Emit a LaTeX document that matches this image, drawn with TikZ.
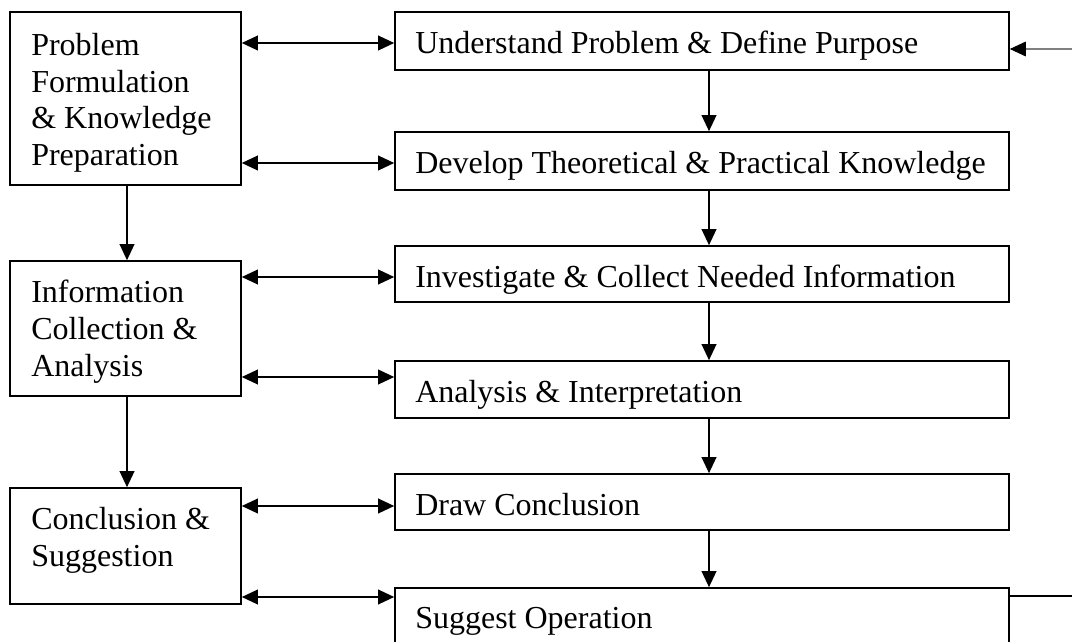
\documentclass[tikz,border=0pt]{standalone}
\usepackage{fontspec}
\setmainfont{Liberation Serif}
\usetikzlibrary{arrows.meta,fit}
\begin{document}
\begin{tikzpicture}[x=0.75pt,y=-0.75pt,
  box/.style={draw, line width=1.2pt, inner sep=0pt},
  txt/.style={anchor=north west, inner sep=0pt, align=left,
    font=\fontsize{24}{27.5}\selectfont},
  link/.style={line width=1.2pt, {Triangle[length=12pt,width=11pt]}-{Triangle[length=12pt,width=11pt]}},
  flow/.style={line width=1.2pt, -{Triangle[length=12pt,width=11pt]}}
]
\useasboundingbox (0,0) rectangle (1072,642);
\clip (0,0) rectangle (1072,642);

% phase boxes (left column)
\node[box, fit={(10,12) (241,185)}] (pf) {};
\node[box, fit={(10,261) (241,396)}] (ic) {};
\node[box, fit={(10,488) (241,604)}] (cs) {};
\node[txt] (pft) at (31,33) {Problem\\Formulation\\\& Knowledge\\Preparation};
\node[txt] (ict) at (31,280) {Information\\Collection \&\\Analysis};
\node[txt] (cst) at (31,507) {Conclusion \&\\Suggestion};

% step boxes (right column)
\node[box, fit={(395,12) (1009,70)}] (r1) {};
\node[box, fit={(395,132) (1009,190)}] (r2) {};
\node[box, fit={(395,246) (1009,302)}] (r3) {};
\node[box, fit={(395,361) (1009,418)}] (r4) {};
\node[box, fit={(395,474) (1009,530)}] (r5) {};
\node[box, fit={(395,588) (1009,670)}] (r6) {};
\node[txt] (r1t) at (415,31) {Understand Problem \& Define Purpose};
\node[txt] (r2t) at (415,151) {Develop Theoretical \& Practical Knowledge};
\node[txt] (r3t) at (415,265) {Investigate \& Collect Needed Information};
\node[txt] (r4t) at (415,380) {Analysis \& Interpretation};
\node[txt] (r5t) at (415,493) {Draw Conclusion};
\node[txt] (r6t) at (415,607) {Suggest Operation};

% reference levels
\coordinate (lx) at (127,0);
\coordinate (rx) at (709,0);
\coordinate (y1) at (0,43);
\coordinate (y2) at (0,163);
\coordinate (y3) at (0,277);
\coordinate (y4) at (0,377);
\coordinate (y5) at (0,506);
\coordinate (y6) at (0,597);

% links between phases and steps
\draw[link] (pf.east |- y1) -- (r1.west |- y1);
\draw[link] (pf.east |- y2) -- (r2.west |- y2);
\draw[link] (ic.east |- y3) -- (r3.west |- y3);
\draw[link] (ic.east |- y4) -- (r4.west |- y4);
\draw[link] (cs.east |- y5) -- (r5.west |- y5);
\draw[link] (cs.east |- y6) -- (r6.west |- y6);

% sequence of phases
\draw[flow] (pf.south -| lx) -- (ic.north -| lx);
\draw[flow] (ic.south -| lx) -- (cs.north -| lx);

% sequence of steps
\draw[flow] (r1.south -| rx) -- (r2.north -| rx);
\draw[flow] (r2.south -| rx) -- (r3.north -| rx);
\draw[flow] (r3.south -| rx) -- (r4.north -| rx);
\draw[flow] (r4.south -| rx) -- (r5.north -| rx);
\draw[flow] (r5.south -| rx) -- (r6.north -| rx);

% feedback loop
\coordinate (fbB) at (1095,596);
\coordinate (fbT) at (1095,49);
\draw[line width=1.2pt] (r6.east |- fbB) -- (fbB);
\draw[gray, line width=0.8pt, -{Triangle[length=12pt,width=11pt,color=black]}] (fbT) -- (r1.east |- fbT);
\end{tikzpicture}
\end{document}
